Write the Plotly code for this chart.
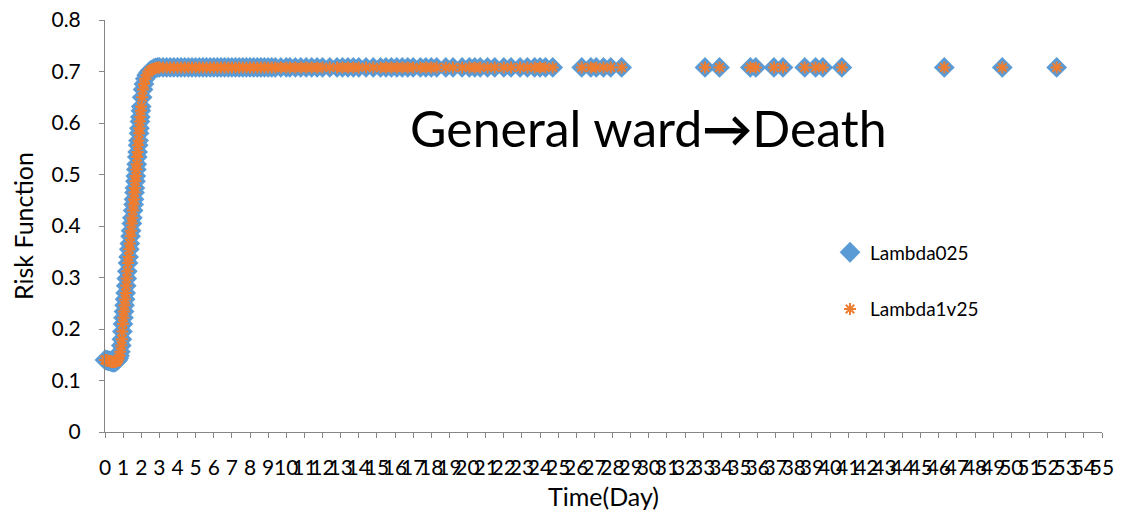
import plotly.graph_objects as go

# ---- data ----
# steep rising part (days, risk)
time_rise = [0.00, 0.05, 0.10, 0.15, 0.20, 0.25, 0.30, 0.35, 0.40, 0.45,
             0.50, 0.55, 0.60, 0.65, 0.70, 0.75, 0.80, 0.85, 0.90, 0.93,
             0.96, 0.99, 1.02, 1.05, 1.08, 1.11, 1.14, 1.17, 1.20, 1.23,
             1.27, 1.30, 1.34, 1.37, 1.41, 1.44, 1.48, 1.51, 1.55, 1.58,
             1.60, 1.63, 1.65, 1.68, 1.70, 1.73, 1.75, 1.78, 1.80, 1.83,
             1.85, 1.88, 1.90, 1.93, 1.95, 1.98, 2.00, 2.05, 2.10, 2.15,
             2.22, 2.30, 2.40, 2.50, 2.60, 2.70, 2.80, 2.90]
risk_rise = [0.140, 0.140, 0.139, 0.139, 0.138, 0.138, 0.137, 0.137, 0.136, 0.136,
             0.136, 0.136, 0.137, 0.138, 0.140, 0.143, 0.148, 0.156, 0.168, 0.180,
             0.195, 0.210, 0.222, 0.234, 0.246, 0.258, 0.270, 0.284, 0.298, 0.312,
             0.328, 0.340, 0.355, 0.366, 0.380, 0.391, 0.405, 0.416, 0.430, 0.442,
             0.452, 0.465, 0.474, 0.487, 0.497, 0.510, 0.520, 0.534, 0.544, 0.557,
             0.566, 0.580, 0.590, 0.603, 0.612, 0.624, 0.632, 0.650, 0.665, 0.676,
             0.686, 0.693, 0.698, 0.702, 0.704, 0.706, 0.707, 0.708]

# plateau part (days, risk)
time_plateau = [3.0, 3.2, 3.4, 3.6, 3.8, 4.0, 4.2, 4.4, 4.6, 4.8,
                5.0, 5.2, 5.4, 5.6, 5.8, 6.0, 6.2, 6.4, 6.6, 6.8,
                7.0, 7.2, 7.4, 7.6, 7.8, 8.0, 8.2, 8.4, 8.6, 8.8,
                9.0, 9.2, 9.4, 9.7, 10.0, 10.2, 10.5, 10.8, 11.1, 11.4,
                11.7, 12.0, 12.4, 12.8, 13.1, 13.4, 13.7, 14.0, 14.4, 14.8,
                15.2, 15.5, 15.8, 16.1, 16.4, 16.7, 17.0, 17.4, 17.7, 18.0,
                18.3, 18.8, 19.2, 19.7, 20.1, 20.4, 20.7, 21.1, 21.5, 22.0,
                22.4, 22.9, 23.3, 23.7, 24.0, 24.3, 24.7, 26.3, 26.8, 27.1,
                27.5, 27.9, 28.5, 33.1, 33.9, 35.6, 35.9, 36.9, 37.4, 38.6,
                39.2, 39.6, 40.65, 46.3, 49.5, 52.5]
risk_plateau = [0.708, 0.708, 0.708, 0.708, 0.708, 0.708, 0.708, 0.708, 0.708, 0.708,
                0.708, 0.708, 0.708, 0.708, 0.708, 0.708, 0.708, 0.708, 0.708, 0.708,
                0.708, 0.708, 0.708, 0.708, 0.708, 0.708, 0.708, 0.708, 0.708, 0.708,
                0.708, 0.708, 0.708, 0.708, 0.708, 0.708, 0.708, 0.708, 0.708, 0.708,
                0.708, 0.708, 0.708, 0.708, 0.708, 0.708, 0.708, 0.708, 0.708, 0.708,
                0.708, 0.708, 0.708, 0.708, 0.708, 0.708, 0.708, 0.708, 0.708, 0.708,
                0.708, 0.708, 0.708, 0.708, 0.708, 0.708, 0.708, 0.708, 0.708, 0.708,
                0.708, 0.708, 0.708, 0.708, 0.708, 0.708, 0.708, 0.708, 0.708, 0.708,
                0.708, 0.708, 0.708, 0.708, 0.708, 0.708, 0.708, 0.708, 0.708, 0.708,
                0.708, 0.708, 0.708, 0.708, 0.708, 0.708]

# Lambda025 series
time_lambda025 = time_rise + time_plateau
risk_lambda025 = risk_rise + risk_plateau
# Lambda1v25 series (indistinguishable from Lambda025 in the picture)
time_lambda1v25 = list(time_lambda025)
risk_lambda1v25 = list(risk_lambda025)

series_names = ["Lambda025", "Lambda1v25"]
x_ticks = list(range(0, 56))
y_ticks = [0, 0.1, 0.2, 0.3, 0.4, 0.5, 0.6, 0.7, 0.8]
y_tick_labels = ["0", "0.1", "0.2", "0.3", "0.4", "0.5", "0.6", "0.7", "0.8"]
title_text = "General ward<b>\u2192</b>Death"

FONT = "Lato, 'Open Sans', sans-serif"
AXIS_GREY = "#868686"

fig = go.Figure()
fig.add_trace(go.Scatter(
    x=time_lambda025, y=risk_lambda025, mode="markers", name=series_names[0],
    legendgroup="g1", cliponaxis=False,
    marker=dict(symbol="diamond", size=16, color="#5B9BD5", line=dict(width=0)),
))
fig.add_trace(go.Scatter(
    x=time_lambda1v25, y=risk_lambda1v25, mode="markers", name=series_names[1],
    legendgroup="g2", cliponaxis=False,
    marker=dict(symbol="asterisk-open", size=10, color="#ED7D31",
                line=dict(color="#ED7D31", width=2)),
))

fig.update_layout(
    width=1138, height=518,
    margin=dict(l=97, r=44, t=12, b=94),
    paper_bgcolor="white", plot_bgcolor="white",
    font=dict(family=FONT, color="black", size=21),
    showlegend=True,
    legend=dict(x=0.7272, xanchor="left", y=0.482, yanchor="top",
                font=dict(size=19), tracegroupgap=29, bgcolor="rgba(0,0,0,0)"),
    annotations=[dict(
        text=title_text, x=0.5456, y=0.738, xref="paper", yref="paper",
        xanchor="center", yanchor="middle", showarrow=False,
        font=dict(size=50, family=FONT, color="black"),
    )],
)
fig.update_xaxes(
    range=[0, 55], tickmode="array", tickvals=x_ticks, ticktext=[str(v) for v in x_ticks],
    ticks="outside", ticklen=5, tickcolor=AXIS_GREY, tickangle=0,
    showline=True, linecolor=AXIS_GREY, linewidth=1, automargin=False,
    showgrid=False, zeroline=False, tickfont=dict(size=21),
    ticklabelstandoff=12,
    title=dict(text="Time(Day)", font=dict(size=25), standoff=10),
)
fig.update_yaxes(
    range=[0, 0.8002], tickmode="array", tickvals=y_ticks, ticktext=y_tick_labels,
    ticks="outside", ticklen=5, tickcolor=AXIS_GREY, ticklabeloverflow="allow",
    showline=True, linecolor=AXIS_GREY, linewidth=1, automargin=False,
    showgrid=False, zeroline=False, tickfont=dict(size=21),
    ticklabelstandoff=14,
    title=dict(text="Risk Function", font=dict(size=25), standoff=12),
)

fig.write_html("out.html")
